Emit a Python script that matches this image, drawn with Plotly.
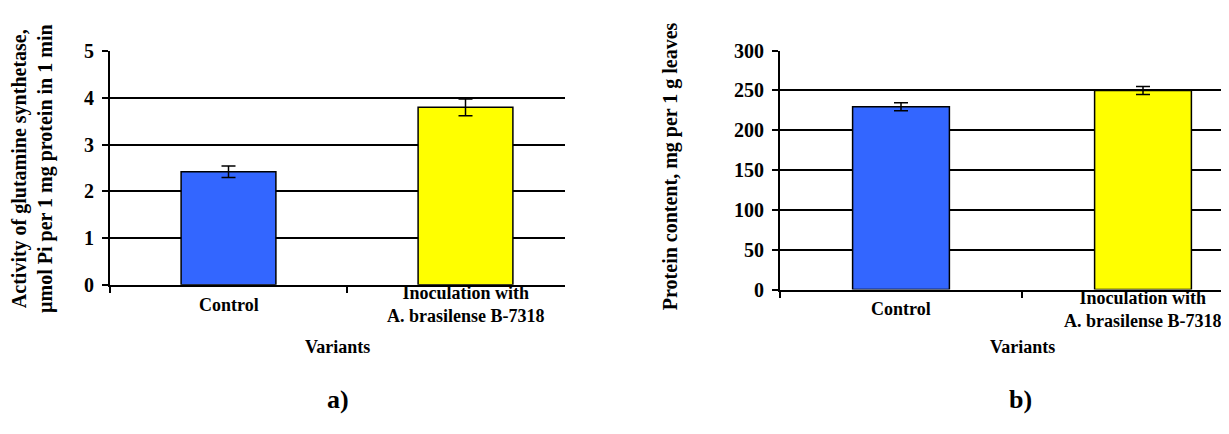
import plotly.graph_objects as go

W, H = 1229, 434

categories = ["Control", "Inoculation with<br>A. brasilense B-7318"]
gs_activity = [2.42, 3.80]
gs_error = [0.125, 0.18]
protein = [229.5, 250.0]
protein_error = [5.0, 5.0]
bar_colors = ["#3366FF", "#FFFF00"]

y1_title = "Activity of glutamine synthetase,<br>µmol Pi per 1 mg protein in 1 min"
y2_title = "Protein content, mg per 1 g leaves"
x_title = "Variants"
panel_labels = ["a)", "b)"]

FONT = "'Liberation Serif', 'Times New Roman', 'DejaVu Serif', serif"

def px(x):
    return x / W

def py(y):
    return 1 - y / H

fig = go.Figure()
fig.add_trace(go.Bar(
    x=categories, y=gs_activity, width=0.4,
    marker=dict(color=bar_colors, line=dict(color="black", width=1.5)),
    error_y=dict(type="data", array=gs_error, color="black", thickness=1.5, width=7),
    xaxis="x", yaxis="y", showlegend=False))
fig.add_trace(go.Bar(
    x=categories, y=protein, width=0.4,
    marker=dict(color=bar_colors, line=dict(color="black", width=1.5)),
    error_y=dict(type="data", array=protein_error, color="black", thickness=1.5, width=7),
    xaxis="x2", yaxis="y2", showlegend=False))

tickfont = dict(family=FONT, size=20, color="black", weight="bold")

xcommon = dict(type="category", showticklabels=False, ticks="outside", tickson="boundaries",
               ticklen=6, tickwidth=1.5, tickcolor="black", showline=True, linecolor="black",
               linewidth=2, showgrid=False, zeroline=False, fixedrange=True)
ycommon = dict(showline=True, linecolor="black", linewidth=2, ticks="outside", ticklen=6,
               tickwidth=1.5, tickcolor="black", showgrid=True, gridcolor="black", gridwidth=1.5,
               zeroline=False, tickfont=tickfont, ticklabelstandoff=4)

L1, R1, T1, B1 = 102, 557, 34, 280
L2, R2, T2, B2 = 772, 1229, 33.3, 285
u1 = 237.0
u2 = 242.0

fig.update_layout(
    width=W, height=H, margin=dict(l=0, r=0, t=0, b=0),
    paper_bgcolor="white", plot_bgcolor="white", bargap=0.6,
    xaxis=dict(domain=[px(L1), px(R1)], anchor="y", range=[-0.5, -0.5 + (R1 - L1) / u1], **xcommon),
    yaxis=dict(domain=[py(B1), py(T1)], anchor="x", range=[0, 5], dtick=1, **ycommon),
    xaxis2=dict(domain=[px(L2), px(R2)], anchor="y2", range=[-0.5, -0.5 + (R2 - L2) / u2], **xcommon),
    yaxis2=dict(domain=[py(B2), py(T2)], anchor="x2", range=[0, 300], dtick=50, **ycommon),
)

lab_font = dict(family=FONT, size=18, color="black", weight="bold")
ytitle_font = dict(family=FONT, size=20, color="black", weight="bold")
ann = []
# category labels
for xr, yl in (("x", 301), ("x2", 306)):
    for c in categories:
        ann.append(dict(x=c, xref=xr, y=py(yl), yref="paper", text=c, showarrow=False,
                        font=lab_font, xanchor="center", yanchor="middle", align="center"))
# x titles
ann.append(dict(x=px(329), y=py(346), xref="paper", yref="paper", text=x_title, showarrow=False,
                font=lab_font, xanchor="center", yanchor="middle"))
ann.append(dict(x=px(1014), y=py(346), xref="paper", yref="paper", text=x_title, showarrow=False,
                font=lab_font, xanchor="center", yanchor="middle"))
# y titles
ann.append(dict(x=px(25), y=py(158), xref="paper", yref="paper", text=y1_title, showarrow=False,
                font=ytitle_font, textangle=-90, xanchor="center", yanchor="middle", align="center"))
ann.append(dict(x=px(662), y=py(155), xref="paper", yref="paper", text=y2_title, showarrow=False,
                font=ytitle_font, textangle=-90, xanchor="center", yanchor="middle"))
# panel labels
for xp, lab in ((330, panel_labels[0]), (1012, panel_labels[1])):
    ann.append(dict(x=px(xp), y=py(401), xref="paper", yref="paper", text=lab, showarrow=False,
                    font=dict(family=FONT, size=26, color="black", weight="bold"),
                    xanchor="center", yanchor="middle"))
fig.update_layout(annotations=ann)

fig.write_html("out.html")
